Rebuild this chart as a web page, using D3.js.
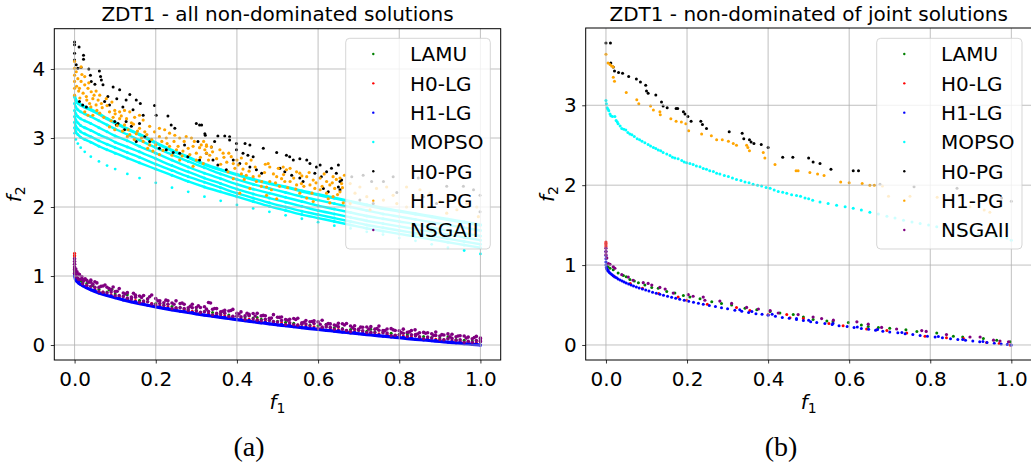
<!DOCTYPE html>
<html><head><meta charset="utf-8">
<script src="https://cdn.jsdelivr.net/npm/d3@7/dist/d3.min.js"></script>
<style>body{margin:0;background:#fff}svg{display:block}</style>
</head><body><svg id="c" width="1031" height="468" font-family="DejaVu Sans"></svg>
<script>
// ---------- labels ----------
const seriesNames = ["LAMU","H0-LG","H1-LG","MOPSO","H0-PG","H1-PG","NSGAII"];
const seriesColors = ["#008000","#ff0000","#0000ff","#00ffff","#000000","#ffa500","#800080"];
const titles = ["ZDT1 - all non-dominated solutions","ZDT1 - non-dominated of joint solutions"];
const captions = ["(a)","(b)"];
const xTicks = [0,0.2,0.4,0.6,0.8,1.0];
const xTickLabels = ["0.0","0.2","0.4","0.6","0.8","1.0"];
const yTicksA = [0,1,2,3,4];
const yTicksB = [0,1,2,3];

// ---------- panel (a): lower front (x grids + y layers) ----------
const gridA1 = [0,0.02,0.04,0.06,0.08,0.10,0.12,0.14,0.16,0.18,0.20,0.22,0.24,0.26,0.28,0.30,0.32,0.34,0.36,0.38,0.40,0.42,0.44,0.46,0.48,0.50,0.52,0.54,0.56,0.58,0.60,0.62,0.64,0.66,0.68,0.70,0.72,0.74,0.76,0.78,0.80,0.82,0.84,0.86,0.88,0.90,0.92,0.94,0.96,0.98,1.00];
const gridA2 = [0.01,0.03,0.05,0.07,0.09,0.11,0.13,0.15,0.17,0.19,0.21,0.23,0.25,0.27,0.29,0.31,0.33,0.35,0.37,0.39,0.41,0.43,0.45,0.47,0.49,0.51,0.53,0.55,0.57,0.59,0.61,0.63,0.65,0.67,0.69,0.71,0.73,0.75,0.77,0.79,0.81,0.83,0.85,0.87,0.89,0.91,0.93,0.95,0.97,0.99];
const aBlue1 = [1.000,.859,.800,.755,.717,.684,.654,.626,.600,.576,.553,.531,.510,.490,.471,.452,.434,.417,.400,.384,.368,.352,.337,.322,.307,.293,.279,.265,.252,.238,.225,.213,.200,.188,.175,.163,.151,.140,.128,.117,.106,.094,.083,.073,.062,.051,.041,.030,.020,.010,.000];
const aBlue2 = [.915,.84,.79,.75,.715,.685,.655,.63,.60,.58,.555,.535,.515,.495,.475,.46,.44,.42,.405,.39,.375,.36,.345,.33,.315,.30,.285,.27,.26,.245,.235,.22,.21,.195,.185,.17,.16,.15,.135,.125,.115,.10,.09,.08,.07,.06,.05,.04,.03,.02];
const aRed = [.93,.86,.81,.77,.73,.70,.67,.645,.62,.60,.57,.555,.53,.515,.49,.475,.46,.44,.425,.41,.39,.375,.365,.345,.335,.32,.30,.29,.275,.265,.25,.235,.225,.21,.20,.19,.175,.165,.155,.14,.13,.12,.11,.095,.085,.075,.065,.055,.045,.035];
const aGreen = [1.06,.91,.85,.81,.77,.74,.71,.68,.65,.63,.60,.585,.56,.545,.52,.505,.485,.47,.455,.435,.42,.405,.39,.375,.36,.345,.33,.315,.305,.29,.28,.265,.25,.24,.225,.215,.20,.19,.18,.17,.155,.145,.135,.125,.11,.10,.09,.08,.07,.06,.05];
const aPurple1 = [.95,.867,.836,.765,.770,.718,.679,.693,.638,.594,.602,.590,.540,.530,.541,.473,.486,.458,.462,.416,.410,.424,.359,.374,.340,.356,.322,.288,.305,.312,.259,.256,.264,.211,.229,.207,.186,.214,.173,.141,.170,.149,.118,.117,.137,.076,.096,.075,.055,.065];
const aPurple2 = [1.10,.949,.910,.835,.837,.774,.754,.696,.710,.666,.673,.611,.610,.600,.541,.542,.554,.517,.480,.494,.458,.422,.457,.422,.387,.403,.369,.385,.322,.338,.335,.293,.290,.308,.275,.233,.261,.230,.208,.237,.206,.184,.153,.183,.162,.131,.161,.120,.130,.090,.100];
const aPurple3 = [1.03,.937,.916,.855,.800,.818,.759,.723,.718,.724,.642,.640,.640,.590,.591,.543,.616,.528,.502,.516,.480,.444,.459,.424,.440,.406,.372,.388,.355,.352,.359,.306,.314,.311,.279,.257,.266,.274,.233,.211,.230,.209,.178,.177,.187,.146,.156,.135,.115,.125];
const aPurple4 = [1.04,.889,.850,.775,.757,.714,.704,.666,.620,.626,.583,.571,.530,.540,.501,.492,.484,.437,.440,.414,.418,.372,.377,.352,.357,.333,.299,.295,.302,.278,.245,.263,.230,.228,.195,.213,.181,.180,.178,.137,.146,.124,.133,.093,.102,.081,.091,.070,.040,.040,.050];
// extra points, flat x,y pairs
const aBlueNear = [0,1.0, 0,1.03, 0.002,0.955, 0.005,0.929, 0.01,0.90, 0.015,0.878];
const aRedNear = [0,1.33, 0,1.30, 0,1.28, 0.001,1.02, 0.003,0.97, 0.006,0.95];
const aGreenNear = [0.001,1.08, 0.004,1.0, 0.008,0.96, 0.015,0.93, 0.03,0.89, 0.045,0.86, 0.085,0.80, 0.092,0.81, 0.13,0.73, 0.18,0.67, 0.43,0.43, 0.45,0.40, 0.62,0.30, 0.73,0.23, 0.82,0.17, 0.92,0.12];
const aPurpleNear = [0,1.25, 0,1.21, 0,1.17, 0,1.13, 0,1.09, 0.001,1.05, 0.002,1.02, 0.003,1.10, 0.004,0.99, 0.006,1.06, 0.008,0.97, 0.012,1.02, 0.015,0.95, 0.018,0.99, 0.022,0.93, 0.026,0.96, 0.035,0.91, 0.04,0.94, 0.045,0.88, 0.055,0.90, 0.065,0.85, 0.075,0.87, 0.085,0.82, 0.095,0.84,
 0.105,0.78, 0.125,0.74, 0.145,0.75, 0.165,0.69, 0.185,0.70, 0.205,0.64, 0.225,0.65, 0.245,0.59, 0.265,0.61, 0.285,0.56, 0.305,0.57, 0.325,0.52, 0.335,0.61, 0.345,0.53, 0.365,0.49, 0.385,0.50, 0.405,0.45, 0.425,0.46, 0.445,0.42, 0.465,0.43, 0.485,0.39, 0.505,0.40, 0.525,0.36, 0.545,0.37, 0.565,0.33, 0.585,0.34, 0.605,0.30, 0.625,0.31, 0.645,0.28, 0.665,0.29, 0.685,0.25, 0.705,0.26, 0.725,0.23, 0.745,0.24, 0.765,0.21, 0.785,0.22, 0.805,0.18, 0.825,0.19, 0.839,0.22, 0.845,0.16, 0.865,0.17, 0.885,0.14, 0.905,0.15, 0.925,0.12, 0.945,0.13, 0.965,0.10, 0.985,0.11, 1.0,0.09, 1.0,0.06];

// ---------- panel (a): MOPSO bands ----------
const mopsoX = [0,0.003,0.008,0.015,0.025,0.04,0.06,0.08,0.10,0.13,0.16,0.20,0.24,0.28,0.32,0.36,0.40,0.44,0.48,0.52,0.56,0.60,0.64,0.68,0.72,0.76,0.80,0.84,0.88,0.92,0.96,1.00];
const aMopso1 = [3.60,3.55,3.51,3.48,3.45,3.41,3.35,3.28,3.22,3.13,3.05,2.93,2.82,2.72,2.62,2.54,2.47,2.40,2.34,2.29,2.23,2.18,2.13,2.08,2.03,1.98,1.94,1.90,1.86,1.82,1.78,1.74];
const aMopso2 = [3.50,3.45,3.41,3.38,3.35,3.31,3.25,3.19,3.13,3.05,2.97,2.86,2.76,2.66,2.57,2.48,2.40,2.33,2.27,2.21,2.15,2.10,2.05,2.00,1.95,1.90,1.86,1.82,1.78,1.74,1.70,1.66];
const aMopso3 = [3.40,3.35,3.31,3.28,3.25,3.21,3.15,3.09,3.03,2.96,2.88,2.78,2.68,2.58,2.49,2.41,2.33,2.26,2.20,2.14,2.08,2.02,1.97,1.92,1.87,1.83,1.79,1.75,1.70,1.66,1.62,1.58];
const aMopso4 = [3.31,3.26,3.22,3.18,3.15,3.11,3.05,3.00,2.94,2.87,2.80,2.70,2.60,2.51,2.42,2.34,2.26,2.19,2.13,2.07,2.01,1.95,1.90,1.85,1.80,1.76,1.72,1.68,1.64,1.60,1.56,1.52];
const aMopso5 = [3.23,3.17,3.13,3.09,3.06,3.02,2.96,2.91,2.86,2.79,2.72,2.62,2.53,2.44,2.36,2.28,2.20,2.13,2.06,2.00,1.94,1.89,1.84,1.79,1.74,1.70,1.66,1.62,1.58,1.54,1.50,1.46];
const aMopso6 = [3.15,3.09,3.05,3.01,2.98,2.94,2.88,2.83,2.78,2.71,2.64,2.55,2.46,2.37,2.29,2.22,2.15,2.08,2.01,1.95,1.89,1.84,1.79,1.74,1.69,1.65,1.61,1.57,1.53,1.49,1.45,1.41];
const aMopso7 = [3.07,2.98,2.92,2.86,2.80,2.73,2.66,2.60,2.55,2.48,2.42,2.35,2.28,2.22,2.15,2.09,2.03,1.98,1.93,1.88,1.83,1.78,1.73,1.69,1.64,1.60,1.55,1.51,1.46,1.41,1.37,1.32];

// ---------- panel (a): PG clouds (x,y pairs) ----------
const aH0PG = [0,4.39, 0,4.35, 0.011,4.32, 0,4.23, 0,4.13, 0.022,4.20, 0.022,4.14, 0.004,4.06, 0.008,4.01, 0.016,4.02, 0.035,4.00, 0.061,3.97, 0.064,3.89, 0.066,3.84, 0.039,3.91, 0.041,3.82, 0.05,3.78, 0.07,3.77, 0.095,3.74, 0.111,3.70, 0.136,3.63, 0.152,3.55, 0.162,3.50, 0.127,3.55, 0.104,3.57, 0.082,3.60, 0.074,3.53, 0.012,3.53, 0.02,3.48, 0.029,3.45, 0.086,3.48, 0.119,3.45, 0.144,3.41, 0.169,3.33, 0.099,3.24, 0.107,3.21, 0.103,3.19, 0.127,3.24, 0.14,3.17, 0.16,3.21, 0.197,3.47, 0.201,3.33, 0.23,3.32, 0.238,3.19, 0.247,3.14, 0.30,3.21, 0.313,3.19, 0.322,3.04, 0.304,2.95, 0.271,2.90, 0.209,2.85, 0.226,2.83, 0.243,2.79, 0.259,2.78, 0.173,3.02, 0.185,2.95, 0.152,2.95, 0.123,3.12, 0.279,2.73, 0.308,2.68,
 0.308,3.19, 0.321,3.06, 0.353,3.03, 0.37,3.03, 0.382,3.02, 0.345,2.95, 0.337,2.87, 0.382,2.97, 0.399,2.92, 0.42,2.92, 0.432,2.90, 0.325,2.78, 0.341,2.68, 0.353,2.61, 0.374,2.54, 0.399,2.83, 0.415,2.78, 0.427,2.75, 0.44,2.73, 0.391,2.68, 0.407,2.63, 0.432,2.58, 0.448,2.54, 0.461,2.49, 0.465,2.85, 0.498,2.79, 0.522,2.75, 0.53,2.73, 0.506,2.56, 0.518,2.51, 0.535,2.46, 0.555,2.42, 0.563,2.37, 0.539,2.68, 0.555,2.70, 0.572,2.68, 0.58,2.63, 0.596,2.58, 0.605,2.61, 0.592,2.49, 0.608,2.44, 0.621,2.51, 0.633,2.56, 0.645,2.49, 0.658,2.39, 0.613,2.27, 0.625,2.22, 0.65,2.29, 0.654,2.37, 0.654,2.25, 0.65,2.61,
 0.683,2.44, 0.711,2.46, 0.732,2.37, 0.785,2.44, 0.736,2.05, 0.794,2.21, 0.847,2.42, 0.859,2.15, 0.917,2.30, 0.958,2.30, 0.983,2.25, 0.999,2.17, 0.999,1.93, 0.703,2.10, 0.892,2.05, 0.761,2.37];
const aH1PG = [0,4.11, 0,4.01, 0,3.91, 0,3.82, 0,3.72, 0,3.62, 0.004,3.96, 0.008,3.86, 0.016,4.03, 0.025,3.89, 0.016,3.82, 0.025,3.77, 0.012,3.72, 0.033,3.72, 0.041,3.67, 0.021,3.65, 0.029,3.60, 0.053,3.68, 0.045,3.57, 0.062,3.62, 0.037,3.50, 0.053,3.48, 0.066,3.50, 0.078,3.57, 0.086,3.38, 0.099,3.40, 0.111,3.38, 0.123,3.40, 0.136,3.38, 0.062,3.36, 0.045,3.33, 0.025,3.38, 0.033,3.33, 0.148,3.30, 0.16,3.33, 0.169,3.26, 0.095,3.30, 0.111,3.28, 0.086,3.16, 0.099,3.12, 0.123,3.19, 0.132,3.12, 0.14,3.22, 0.16,3.14, 0.173,3.09, 0.136,3.05, 0.152,3.06, 0.185,3.17, 0.197,3.09, 0.209,3.14, 0.222,3.12, 0.169,2.95, 0.185,2.90, 0.209,3.02, 0.226,3.00, 0.234,3.07, 0.247,3.04, 0.259,3.00, 0.193,2.81, 0.209,2.76, 0.234,2.88, 0.251,2.83, 0.267,2.81, 0.275,3.02, 0.288,3.00, 0.292,2.88, 0.308,2.86, 0.325,2.88, 0.284,2.76, 0.30,2.68, 0.317,2.63, 0.259,2.68, 0.325,2.78, 0.292,2.59,
 0.312,2.90, 0.325,2.90, 0.337,2.87, 0.321,2.83, 0.333,2.75, 0.358,2.83, 0.366,2.78, 0.386,2.73, 0.391,2.63, 0.403,2.61, 0.411,2.71, 0.423,2.63, 0.378,2.51, 0.391,2.41, 0.411,2.48, 0.423,2.46, 0.44,2.44, 0.448,2.37, 0.461,2.37, 0.477,2.63, 0.481,2.58, 0.432,2.27, 0.473,2.29, 0.481,2.37, 0.485,2.25, 0.502,2.56, 0.514,2.58, 0.522,2.54, 0.498,2.44, 0.51,2.41, 0.518,2.37, 0.531,2.56, 0.547,2.51, 0.555,2.49, 0.531,2.37, 0.547,2.32, 0.559,2.34, 0.572,2.44, 0.588,2.39, 0.58,2.32, 0.592,2.27, 0.605,2.25, 0.555,2.20, 0.572,2.13, 0.588,2.08, 0.605,2.42, 0.621,2.37, 0.637,2.44, 0.654,2.42, 0.629,2.32, 0.641,2.27, 0.654,2.22, 0.658,2.34, 0.621,2.20, 0.637,2.15, 0.629,2.06, 0.662,2.06, 0.473,2.17, 0.498,2.12, 0.407,2.20,
 0.005,3.75, 0.01,3.68, 0.013,3.58, 0.018,3.92, 0.03,3.55, 0.035,3.80, 0.04,3.45, 0.048,3.62, 0.055,3.40, 0.058,3.55, 0.068,3.44, 0.072,3.30, 0.08,3.47, 0.09,3.25, 0.092,3.52, 0.1,3.35, 0.105,3.18, 0.115,3.32, 0.118,3.10, 0.128,3.28, 0.13,3.02, 0.145,3.20, 0.147,2.98, 0.155,3.10, 0.165,3.00, 0.178,3.05, 0.18,2.85, 0.19,2.98, 0.2,2.90, 0.215,2.95, 0.218,2.82, 0.228,2.92, 0.24,2.75, 0.245,2.95, 0.255,2.88, 0.265,2.74, 0.27,2.95, 0.28,2.85, 0.295,2.95, 0.3,2.78, 0.31,2.72, 0.318,2.95, 0.33,2.68, 0.34,2.80, 0.35,2.70, 0.36,2.62, 0.368,2.72, 0.375,2.65, 0.38,2.78, 0.395,2.56, 0.4,2.68, 0.415,2.55, 0.418,2.40, 0.43,2.52, 0.435,2.68, 0.445,2.58, 0.455,2.45, 0.46,2.30, 0.468,2.50, 0.47,2.62, 0.49,2.48, 0.495,2.35, 0.505,2.30, 0.515,2.47, 0.525,2.28, 0.54,2.42, 0.545,2.26, 0.56,2.45, 0.565,2.30, 0.578,2.50, 0.585,2.20, 0.595,2.35, 0.61,2.30, 0.615,2.48, 0.625,2.12, 0.635,2.35, 0.645,2.40, 0.648,2.18, 0.66,2.28, 0.665,2.46,
 0.679,2.34, 0.703,2.29, 0.691,2.20, 0.72,2.15, 0.744,2.27, 0.769,2.29, 0.761,2.10, 0.794,2.05, 0.818,2.29, 0.835,2.15, 0.818,2.00, 0.859,2.00, 0.876,2.20, 0.90,2.08, 0.925,2.10, 0.942,1.96, 0.966,2.05, 0.991,2.00, 0.995,1.86, 0.728,1.96, 0.679,2.05, 0.917,1.91, 0.851,2.25, 0.785,2.17];

// ---------- panel (b) (x,y pairs) ----------
const bLAMU = [0.002,1.00, 0.005,0.98, 0.01,0.96, 0.018,0.94, 0.03,0.90, 0.043,0.87, 0.05,0.855, 0.059,0.82, 0.07,0.80, 0.08,0.78, 0.096,0.75, 0.113,0.72, 0.129,0.71, 0.15,0.67, 0.17,0.65, 0.191,0.62, 0.207,0.60, 0.232,0.58, 0.261,0.54, 0.285,0.52, 0.31,0.50, 0.343,0.46, 0.372,0.44, 0.405,0.42, 0.429,0.40, 0.462,0.38, 0.487,0.35, 0.511,0.32, 0.545,0.30, 0.56,0.29, 0.598,0.28, 0.63,0.25, 0.647,0.23, 0.672,0.22, 0.70,0.21, 0.74,0.19, 0.767,0.17, 0.816,0.15, 0.857,0.11, 0.88,0.10, 0.931,0.08, 0.964,0.06, 0.997,0.04];
const bH0LG = [0,1.29, 0,1.27, 0,1.25, 0,1.23, 0.002,0.96, 0.02,0.86, 0.06,0.77, 0.09,0.71, 0.13,0.645, 0.178,0.60, 0.199,0.56, 0.25,0.51, 0.322,0.47, 0.355,0.43, 0.40,0.38, 0.446,0.38, 0.454,0.34, 0.487,0.33, 0.55,0.27, 0.585,0.24, 0.643,0.20, 0.668,0.19, 0.693,0.18, 0.742,0.15, 0.787,0.11, 0.84,0.09, 0.882,0.08, 0.939,0.03, 0.97,0.02, 0.997,0.0];
const bH1LG = [0,1.17, 0,1.12, 0,1.08, 0,1.04, 0,1.00, 0.001,0.97, 0.002,0.955, 0.003,0.945, 0.004,0.935, 0.005,0.928, 0.007,0.916, 0.009,0.905, 0.012,0.89, 0.015,0.878, 0.018,0.866, 0.022,0.852, 0.026,0.84, 0.03,0.827, 0.035,0.813, 0.04,0.80, 0.045,0.788, 0.05,0.776, 0.056,0.763, 0.062,0.751, 0.068,0.739, 0.075,0.726, 0.082,0.714, 0.09,0.70, 0.098,0.687, 0.106,0.674, 0.115,0.661, 0.124,0.648, 0.133,0.635, 0.142,0.623, 0.152,0.61, 0.162,0.598, 0.172,0.585, 0.182,0.573, 0.193,0.561, 0.204,0.548, 0.216,0.535, 0.228,0.523, 0.24,0.51, 0.255,0.495, 0.27,0.48, 0.285,0.466, 0.30,0.452, 0.318,0.436, 0.335,0.421, 0.352,0.407, 0.37,0.392, 0.385,0.385, 0.40,0.372, 0.418,0.36, 0.435,0.345, 0.452,0.333, 0.47,0.318, 0.487,0.305, 0.505,0.292, 0.52,0.28, 0.54,0.268, 0.558,0.255, 0.575,0.242, 0.595,0.23, 0.612,0.218, 0.63,0.207, 0.648,0.196, 0.665,0.185, 0.683,0.173, 0.70,0.163, 0.72,0.152, 0.738,0.141, 0.757,0.13, 0.775,0.12, 0.793,0.11, 0.812,0.099, 0.83,0.089, 0.85,0.078, 0.868,0.068, 0.887,0.058, 0.905,0.049, 0.922,0.04, 0.94,0.031, 0.958,0.021, 0.975,0.013, 0.99,0.005, 1.0,0.0, 0.33,0.44, 0.36,0.42, 0.41,0.385, 0.47,0.33, 0.50,0.31, 0.56,0.27, 0.62,0.225, 0.67,0.195, 0.73,0.155, 0.82,0.105, 0.88,0.07, 0.93,0.045];
const bMOPSO = [0,3.06, 0.001,3.02, 0.003,2.97, 0.005,2.95, 0.007,2.93, 0.01,2.89, 0.012,2.87, 0.016,2.86, 0.022,2.86, 0.025,2.81, 0.028,2.79, 0.03,2.77, 0.035,2.74, 0.039,2.71, 0.044,2.70, 0.049,2.69, 0.054,2.66, 0.059,2.64, 0.064,2.63, 0.07,2.61, 0.077,2.58, 0.083,2.57, 0.089,2.55, 0.096,2.53, 0.104,2.51, 0.11,2.49, 0.117,2.47, 0.123,2.46, 0.129,2.44, 0.135,2.43, 0.141,2.41, 0.15,2.39, 0.158,2.37, 0.164,2.35, 0.17,2.34, 0.178,2.33, 0.187,2.31, 0.193,2.29, 0.199,2.28, 0.207,2.27, 0.215,2.26, 0.223,2.24, 0.232,2.23, 0.24,2.21, 0.248,2.20, 0.256,2.18, 0.265,2.17, 0.273,2.15, 0.281,2.14, 0.292,2.12, 0.302,2.11, 0.312,2.09, 0.322,2.07, 0.333,2.06, 0.343,2.04, 0.353,2.03, 0.363,2.01, 0.374,2.00, 0.384,1.99, 0.395,1.97, 0.405,1.96, 0.415,1.94, 0.425,1.92, 0.436,1.91, 0.446,1.90, 0.458,1.88, 0.47,1.87, 0.48,1.86, 0.491,1.84, 0.50,1.83, 0.51,1.81, 0.528,1.79, 0.548,1.77, 0.569,1.75, 0.59,1.73, 0.61,1.71, 0.63,1.69, 0.651,1.66, 0.672,1.64, 0.693,1.61, 0.713,1.59, 0.734,1.56, 0.755,1.54, 0.775,1.52, 0.796,1.50, 0.816,1.48, 0.837,1.46, 0.857,1.44, 0.878,1.42, 0.898,1.40, 0.918,1.39, 0.939,1.38, 0.96,1.36, 0.975,1.35, 0.989,1.34, 1.0,1.31];
const bH0PG = [0,3.78, 0.011,3.78, 0.012,3.53, 0.018,3.48, 0.021,3.43, 0.031,3.41, 0.041,3.40, 0.056,3.36, 0.075,3.33, 0.085,3.29, 0.098,3.25, 0.100,3.18, 0.104,3.15, 0.123,3.13, 0.137,3.04, 0.141,2.99, 0.151,2.97, 0.173,2.96, 0.177,2.96, 0.191,2.92, 0.195,2.89, 0.202,2.86, 0.21,2.80, 0.234,2.80, 0.238,2.76, 0.248,2.71, 0.304,2.67, 0.336,2.65, 0.34,2.58, 0.354,2.57, 0.358,2.54, 0.365,2.52, 0.383,2.51, 0.40,2.47, 0.436,2.35, 0.461,2.35, 0.50,2.34, 0.511,2.29, 0.528,2.27, 0.555,2.20, 0.61,2.18, 0.623,2.18, 0.676,2.01, 0.76,1.98, 0.866,1.96, 0.976,1.84, 1.0,1.80];
const bH1PG = [0,3.64, 0.005,3.53, 0.01,3.51, 0.014,3.49, 0.018,3.48, 0.018,3.35, 0.021,3.30, 0.05,3.16, 0.076,3.07, 0.081,3.02, 0.11,2.99, 0.117,2.94, 0.133,2.92, 0.134,2.88, 0.16,2.83, 0.173,2.80, 0.186,2.79, 0.197,2.77, 0.204,2.68, 0.236,2.64, 0.26,2.62, 0.273,2.57, 0.287,2.57, 0.302,2.55, 0.314,2.52, 0.322,2.50, 0.347,2.50, 0.35,2.47, 0.354,2.43, 0.388,2.41, 0.392,2.34, 0.417,2.26, 0.469,2.18, 0.474,2.18, 0.503,2.16, 0.522,2.14, 0.538,2.12, 0.579,2.04, 0.60,2.03, 0.632,2.02, 0.651,2.00, 0.662,2.00, 0.682,1.99, 0.697,1.86, 0.75,1.86, 0.817,1.85, 0.898,1.73, 0.933,1.69, 0.947,1.66];
const bNSGAII = [0,1.21, 0,1.17, 0,1.13, 0.002,1.09, 0.006,1.02, 0.01,1.01, 0.018,0.98, 0.022,0.96, 0.039,0.88, 0.055,0.85, 0.067,0.81, 0.092,0.78, 0.104,0.77, 0.113,0.75, 0.133,0.72, 0.146,0.70, 0.166,0.65, 0.203,0.63, 0.215,0.61, 0.24,0.60, 0.244,0.56, 0.281,0.55, 0.31,0.52, 0.347,0.47, 0.376,0.45, 0.405,0.43, 0.425,0.40, 0.474,0.38, 0.511,0.35, 0.532,0.33, 0.561,0.31, 0.619,0.29, 0.647,0.26, 0.68,0.22, 0.717,0.20, 0.779,0.18, 0.79,0.17, 0.84,0.13, 0.898,0.10, 0.923,0.10, 0.956,0.06, 0.972,0.05, 0.993,0.04];

// ---------- helpers ----------
const pairs = a => { const r=[]; for(let i=0;i<a.length;i+=2) r.push([a[i],a[i+1]]); return r; };
const zipXY = (xs,ys) => xs.map((x,i)=>[x,ys[i]]);
const svg = d3.select("#c");
svg.append("rect").attr("width",1031).attr("height",468).attr("fill","#fff");
const FS = 20;

function panel(cfg, idx){
  const x = d3.scaleLinear().domain([-0.05,1.05]).range([cfg.left,cfg.right]);
  const y = d3.scaleLinear().domain(cfg.ydom).range([360,cfg.top]);
  const clipId = "clip"+idx;
  svg.append("clipPath").attr("id",clipId).append("rect")
    .attr("x",cfg.left).attr("y",cfg.top).attr("width",cfg.right-cfg.left).attr("height",360-cfg.top);
  const plot = svg.append("g").attr("clip-path",`url(#${clipId})`);
  const line = d3.line().x(d=>x(d[0])).y(d=>y(d[1])).curve(d3.curveMonotoneX);

  cfg.layers.forEach(L=>{
    const col = seriesColors[L.s];
    if(L.line){
      const pts = L.pts.slice().sort((a,b)=>a[0]-b[0]);
      plot.append("path").datum(pts).attr("d",line).attr("fill","none")
        .attr("stroke",col).attr("stroke-width",L.line).attr("stroke-linecap","round");
    }
    plot.append("g").selectAll("circle").data(L.pts).join("circle")
      .attr("cx",d=>x(d[0])).attr("cy",d=>y(d[1])).attr("r",L.r||1.4).attr("fill",col);
  });

  // grid (above collections, as in matplotlib)
  const grid = svg.append("g").attr("stroke","#b0b0b0").attr("stroke-width",0.8);
  xTicks.forEach(t=>grid.append("line").attr("x1",x(t)).attr("x2",x(t)).attr("y1",cfg.top).attr("y2",360));
  cfg.yTicks.forEach(t=>grid.append("line").attr("x1",cfg.left).attr("x2",cfg.right).attr("y1",y(t)).attr("y2",y(t)));

  // axes
  const ax = svg.append("g").attr("transform","translate(0,360)")
    .call(d3.axisBottom(x).tickValues(xTicks).tickFormat((d,i)=>xTickLabels[i]).tickSize(3.5).tickPadding(8));
  const ay = svg.append("g").attr("transform",`translate(${cfg.left},0)`)
    .call(d3.axisLeft(y).tickValues(cfg.yTicks).tickFormat(d3.format("d")).tickSize(3.5).tickPadding(5.5));
  [ax,ay].forEach(a=>{
    a.attr("font-family",null).attr("font-size",null);
    a.select(".domain").remove();
    a.selectAll("line").attr("stroke","#000").attr("stroke-width",0.8);
    a.selectAll("text").attr("font-size",FS).attr("fill","#000");
  });
  svg.append("rect").attr("x",cfg.left).attr("y",cfg.top).attr("width",cfg.right-cfg.left).attr("height",360-cfg.top)
    .attr("fill","none").attr("stroke","#000").attr("stroke-width",1);

  // title
  svg.append("text").attr("x",(cfg.left+cfg.right)/2).attr("y",21).attr("text-anchor","middle")
    .attr("font-size",FS).text(titles[idx]);
  // x label
  const xl = svg.append("text").attr("x",(cfg.left+cfg.right)/2).attr("y",409).attr("text-anchor","middle").attr("font-size",FS);
  xl.append("tspan").attr("font-style","italic").text("f");
  xl.append("tspan").attr("font-size",14).attr("dy",4).text("1");
  // y label
  const yl = svg.append("text").attr("transform",`translate(${cfg.ylabX},${(cfg.top+360)/2}) rotate(-90)`)
    .attr("text-anchor","middle").attr("font-size",FS);
  yl.append("tspan").attr("font-style","italic").text("f");
  yl.append("tspan").attr("font-size",14).attr("dy",4).text("2");
  // caption (serif, as in the LaTeX document)
  svg.append("text").attr("x",cfg.capX).attr("y",456).attr("text-anchor","middle")
    .style("font-family","'Liberation Serif', 'DejaVu Serif', serif").attr("font-size",28).text(captions[idx]);

  // legend
  const lg = svg.append("g");
  lg.append("rect").attr("x",cfg.legX).attr("y",38.3).attr("width",cfg.legW).attr("height",210.7).attr("rx",4)
    .attr("fill","#fff").attr("fill-opacity",0.8).attr("stroke","#cccccc").attr("stroke-opacity",0.8);
  seriesNames.forEach((n,i)=>{
    const cy = 54 + i*29.33;
    lg.append("circle").attr("cx",cfg.legX+27.6).attr("cy",cy).attr("r",1.2).attr("fill",seriesColors[i]);
    lg.append("text").attr("x",cfg.legX+64.3).attr("y",cy+7.3).attr("font-size",FS).text(n);
  });
}

// panel (a)
const layersA = [
  {s:0, pts: zipXY(gridA1,aGreen).concat(pairs(aGreenNear)), r:1.5},
  {s:1, pts: zipXY(gridA2,aRed).concat(pairs(aRedNear)), r:1.5},
  {s:2, pts: zipXY(gridA1,aBlue1).concat(pairs(aBlueNear)), line:3.2, r:1.5},
  {s:2, pts: zipXY(gridA2,aBlue2), r:1.5},
  {s:3, pts: zipXY(mopsoX,aMopso1), line:3.2, r:1.6},
  {s:3, pts: zipXY(mopsoX,aMopso2), line:2.4, r:1.5},
  {s:3, pts: zipXY(mopsoX,aMopso3), line:2.4, r:1.5},
  {s:3, pts: zipXY(mopsoX,aMopso4), line:2.4, r:1.5},
  {s:3, pts: zipXY(mopsoX,aMopso5), line:2.4, r:1.5},
  {s:3, pts: zipXY(mopsoX,aMopso6), line:2.4, r:1.5},
  {s:3, pts: zipXY(mopsoX,aMopso7), r:1.4},
  {s:4, pts: pairs(aH0PG), r:1.5},
  {s:5, pts: pairs(aH1PG), r:1.6},
  {s:6, pts: zipXY(gridA1,aPurple4), r:1.7},
  {s:6, pts: zipXY(gridA2,aPurple1), r:1.8},
  {s:6, pts: zipXY(gridA1,aPurple2), r:1.8},
  {s:6, pts: zipXY(gridA2,aPurple3), r:1.8},
  {s:6, pts: pairs(aPurpleNear), r:1.8}
];
panel({left:54.3,right:500.7,top:28.7,ydom:[-0.217,4.584],yTicks:yTicksA,layers:layersA,
       ylabX:21,capX:249,legX:345.7,legW:144.6},0);

// panel (b)
const layersB = [
  {s:0, pts: pairs(bLAMU), r:1.5},
  {s:1, pts: pairs(bH0LG), r:1.5},
  {s:2, pts: pairs(bH1LG), r:1.5},
  {s:3, pts: pairs(bMOPSO), r:1.5},
  {s:4, pts: pairs(bH0PG), r:1.5},
  {s:5, pts: pairs(bH1PG), r:1.5},
  {s:6, pts: pairs(bNSGAII), r:1.6}
];
panel({left:585.7,right:1031.6,top:28,ydom:[-0.188,3.967],yTicks:yTicksB,layers:layersB,
       ylabX:554,capX:781,legX:876.7,legW:145.3},1);
</script></body></html>
